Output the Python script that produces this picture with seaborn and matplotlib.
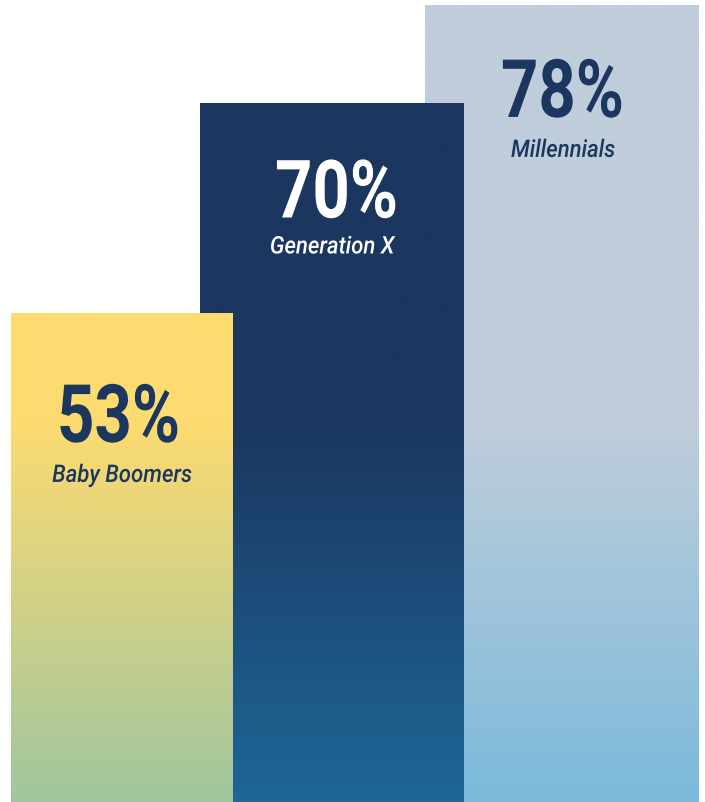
import numpy as np
import pandas as pd
import matplotlib
matplotlib.use("Agg")
import matplotlib.pyplot as plt
import seaborn as sns
from matplotlib.colors import to_rgb
from matplotlib.patheffects import AbstractPathEffect
from matplotlib.transforms import Affine2D

# ---- data ----
generations = ["Baby Boomers", "Generation X", "Millennials"]
shares = [53, 70, 78]
value_labels = ["53%", "70%", "78%"]

# ---- style ----
top_colors = ["#FDDB70", "#1B365F", "#C0CDDA"]
bottom_colors = ["#A0C69F", "#1E6797", "#7BBADB"]
text_colors = ["#1B365F", "#FFFFFF", "#1B365F"]
bar_left_px = [11, 200, 425]
bar_right_px = [233, 464, 699]
num_baseline_px = [129, 114, 112]   # below bar top
lab_baseline_px = [169, 150, 152]
num_dx_px = [-3.5, 4.5, 0.5]
lab_dx_px = [0, 0, 1]
y_bottom, y_top = 13.3, 78.4
grad_start = 44.3


class HorizontalSqueeze(AbstractPathEffect):
    """Draw text glyphs narrower, squeezing around a fixed display x."""
    def __init__(self, sx, x_disp):
        super().__init__()
        self.sx = sx
        self.x_disp = x_disp

    def draw_path(self, renderer, gc, tpath, affine, rgbFace=None):
        sq = Affine2D().translate(-self.x_disp, 0).scale(self.sx, 1).translate(self.x_disp, 0)
        renderer.draw_path(gc, tpath, affine + sq, rgbFace)


sns.set_theme(style="white")
plt.rcParams['font.family'] = ['DejaVu Sans']

fig = plt.figure(figsize=(7.05, 8.02), dpi=100)
ax = fig.add_axes([0, 0, 1, 1])
df = pd.DataFrame({"gen": generations, "share": shares})
sns.barplot(data=df, x="gen", y="share", hue="gen", order=generations,
            hue_order=generations, palette=top_colors, saturation=1,
            legend=False, ax=ax, linewidth=0)

ax.set_xlim(0, 705)
ax.set_ylim(y_bottom, y_top)
ax.axis("off")

for i, cont in enumerate(ax.containers):
    p = cont.patches[0]
    x0, x1 = bar_left_px[i], bar_right_px[i]
    p.set_x(x0)
    p.set_width(x1 - x0)
    z = 3 - i
    p.set_zorder(z)
    h = shares[i]
    ny = 500
    vals = np.linspace(y_bottom, h, ny)
    t = np.clip((grad_start - vals) / (grad_start - y_bottom), 0, 1)[:, None]
    c = np.array(to_rgb(top_colors[i])) * (1 - t) + np.array(to_rgb(bottom_colors[i])) * t
    img = ax.imshow(c[:, None, :], extent=(x0, x1, y_bottom, h), origin="lower",
                    aspect="auto", zorder=z + 0.5, interpolation="bilinear")
    img.set_clip_path(p)
    cx = (x0 + x1) / 2
    x_disp = ax.transData.transform((cx, h))[0] + num_dx_px[i]
    ax.annotate(value_labels[i], xy=(cx, h),
                xytext=(num_dx_px[i] * 0.72, -num_baseline_px[i] * 0.72),
                textcoords="offset points", ha="center", va="baseline",
                fontsize=58, fontweight="semibold",
                family=["Roboto", "DejaVu Sans"],
                color=text_colors[i], zorder=10,
                path_effects=[HorizontalSqueeze(0.81, x_disp)])
    lx_disp = ax.transData.transform((cx, h))[0] + lab_dx_px[i]
    ax.annotate(generations[i], xy=(cx, h),
                xytext=(lab_dx_px[i] * 0.72, -lab_baseline_px[i] * 0.72),
                textcoords="offset points", ha="center", va="baseline",
                fontsize=17.5, fontstyle="italic", fontweight="medium",
                family=["Roboto", "DejaVu Sans"],
                color=text_colors[i], zorder=10,
                path_effects=[HorizontalSqueeze(0.91, lx_disp)])

ax.set_xlim(0, 705)
ax.set_ylim(y_bottom, y_top)
fig.savefig("out.png", dpi=100)
